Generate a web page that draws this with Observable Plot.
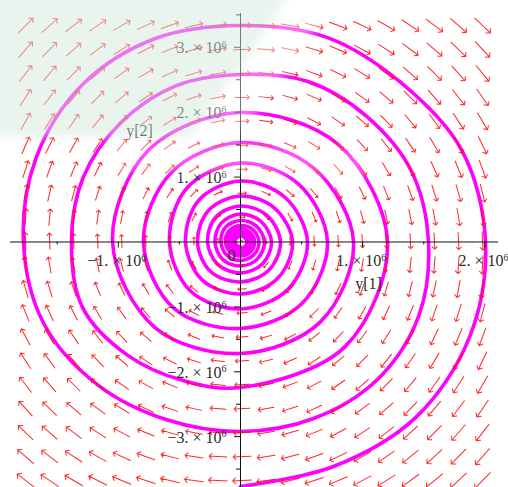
<!DOCTYPE html>
<html>
<head>
<meta charset="utf-8">
<script src="https://cdn.jsdelivr.net/npm/d3@7"></script>
<script src="https://cdn.jsdelivr.net/npm/@observablehq/plot@0.6"></script>
<style>
  html, body { margin: 0; padding: 0; background: #fff; }
  #chart svg { display: block; }
</style>
</head>
<body>
<div id="chart"></div>
<script>
// Phase plane of a planar linear system: direction field plus one trajectory.

// Trajectory samples (units of 10^6), from its outer end spiralling inwards.
const trajY1 = [
  0, 0.761, 1.435, 1.875, 2.005, 1.811, 1.308, 0.695,
  0, -0.691, -1.290, -1.671, -1.776, -1.610, -1.169, -0.603,
  0, 0.598, 1.123, 1.459, 1.538, 1.399, 1.030, 0.545,
  0, -0.529, -0.978, -1.285, -1.383, -1.293, -0.926, -0.470,
  0, 0.856, 1.203, 0.799, 0, -0.752, -1.047, -0.700,
  0, 0.654, 0.925, 0.602, 0, -0.567, -0.794, -0.544,
  0, 0.503, 0.712, 0.475, 0, -0.440, -0.581, -0.405,
  0, 0.388, 0.548, 0.365, 0, -0.341, -0.450, -0.312,
  0, 0.301, 0.426, 0.278, 0, -0.260, -0.352, -0.243,
  0, 0.231, 0.327, 0.217, 0, -0.203, -0.270, -0.185,
  0, 0.179, 0.254, 0.168, 0, -0.156, -0.209, -0.145,
  0, 0.139, 0.196, 0.130, 0, -0.122, -0.160, -0.110,
  0, 0.107, 0.151, 0.101, 0, -0.093, -0.123, -0.084,
  0, 0.081, 0.115, 0.078, 0, -0.072, -0.094, -0.064,
  0, 0.064, 0.090, 0.061, 0, -0.055, -0.074, -0.049,
  0, 0.049, 0.070, 0.046, 0, -0.043, -0.057, -0.038,
  0, 0.038, 0.053, 0.035, 0, -0.032, -0.045, -0.029,
  0
];
const trajY2 = [
  -3.767, -3.459, -2.702, -1.462, 0, 1.412, 2.462, 3.160,
  3.336, 3.139, 2.430, 1.303, 0, -1.256, -2.201, -2.740,
  -2.920, -2.719, -2.114, -1.138, 0, 1.091, 1.940, 2.477,
  2.581, 2.406, 1.841, 1.003, 0, -1.008, -1.743, -2.135,
  -2.242, -1.612, 0, 1.504, 1.995, 1.416, 0, -1.318,
  -1.718, -1.231, 0, 1.133, 1.533, 1.068, 0, -1.024,
  -1.333, -0.948, 0, 0.893, 1.217, 0.828, 0, -0.763,
  -1.032, -0.730, 0, 0.686, 0.940, 0.643, 0, -0.588,
  -0.801, -0.567, 0, 0.523, 0.709, 0.490, 0, -0.458,
  -0.616, -0.436, 0, 0.409, 0.555, 0.381, 0, -0.349,
  -0.478, -0.338, 0, 0.316, 0.431, 0.294, 0, -0.272,
  -0.370, -0.261, 0, 0.245, 0.331, 0.229, 0, -0.207,
  -0.285, -0.202, 0, 0.191, 0.254, 0.174, 0, -0.158,
  -0.216, -0.153, 0, 0.147, 0.200, 0.136, 0, -0.120,
  -0.169, -0.120, 0, 0.114, 0.154, 0.104, 0, -0.093,
  -0.131, -0.093, 0, 0.087, 0.116, 0.082, 0, -0.071,
  -0.100, -0.071, 0, 0.065, 0.092, 0.060, 0, -0.054,
  -0.077
];

// System y' = A y, and the window / grid on which the direction field is sampled.
const systemA = [[0.076, 1], [-3.3, 0.076]];
const fieldY1Range = [-1.857e6, 2.079e6];
const fieldY2Range = [-3.86e6, 3.52e6];
const fieldGrid = 20;

// Axes through the origin.
const viewY1 = [-1.964e6, 2.193e6];
const viewY2 = [-3.783e6, 3.721e6];
const axisY1Extent = [-1.882e6, 2.111e6];
const axisY2Extent = [-3.85e6, 3.52e6];
const xMajorTicks = [-1e6, 1e6, 2e6];
const xMajorLabels = ["\u22121. \u00d7 10", "1. \u00d7 10", "2. \u00d7 10"];
const xMinorTicks = [-1.5e6, -0.5e6, 0.5e6, 1.5e6];
const yMajorTicks = [3e6, 2e6, 1e6, -1e6, -2e6, -3e6];
const yMajorLabels = ["3. \u00d7 10", "2. \u00d7 10", "1. \u00d7 10", "\u22121. \u00d7 10", "\u22122. \u00d7 10", "\u22123. \u00d7 10"];
const yMinorTicks = [3.5e6, 2.5e6, 1.5e6, 0.5e6, -0.5e6, -1.5e6, -2.5e6, -3.5e6];
const tickExponent = "6";
const axisNames = ["y[1]", "y[2]"];

const W = 508, H = 487;
const serif = "'Liberation Serif', 'Times New Roman', serif";
const ink = "#2a2a2a";

// trajectory table
const trajectory = trajY1.map((v, i) => ({y1: v * 1e6, y2: trajY2[i] * 1e6}));

// direction field, arrows oriented in screen space
const kx = W / (viewY1[1] - viewY1[0]);
const ky = H / (viewY2[1] - viewY2[0]);
const c1 = (fieldY1Range[1] - fieldY1Range[0]) / fieldGrid;
const c2 = (fieldY2Range[1] - fieldY2Range[0]) / fieldGrid;
const field = [];
for (let i = 0; i < fieldGrid; i++) {
  for (let j = 0; j < fieldGrid; j++) {
    const y1 = fieldY1Range[0] + (i + 0.5) * c1;
    const y2 = fieldY2Range[0] + (j + 0.5) * c2;
    const d1 = systemA[0][0] * y1 + systemA[0][1] * y2;
    const d2 = systemA[1][0] * y1 + systemA[1][1] * y2;
    const u = d1 * kx, v = d2 * ky;
    field.push({y1, y2, rotate: Math.atan2(u, v) * 180 / Math.PI, mag: Math.hypot(u, v)});
  }
}
const maxMag = d3.max(field, d => d.mag);

const labelTexts = new Set([...xMajorLabels, ...yMajorLabels]);

const chart = Plot.plot({
  width: W,
  height: H,
  margin: 0,
  x: {domain: viewY1, axis: null},
  y: {domain: viewY2, axis: null},
  length: {type: "sqrt", domain: [0, maxMag], range: [0, 22]},
  style: {background: "#fff", overflow: "visible"},
  marks: [
    Plot.line(trajectory, {x: "y1", y: "y2", stroke: "#ff00ff", strokeWidth: 3.6, curve: "catmull-rom"}),
    Plot.vector(field, {
      x: "y1", y: "y2", rotate: "rotate", length: "mag", anchor: "middle", r: 2.6,
      stroke: "#ff1010", strokeWidth: 1, strokeOpacity: 0.9
    }),
    // axes
    Plot.ruleY([0], {x1: axisY1Extent[0], x2: axisY1Extent[1], stroke: "#111", strokeWidth: 1}),
    Plot.ruleX([0], {y1: axisY2Extent[0], y2: axisY2Extent[1], stroke: "#111", strokeWidth: 1}),
    Plot.ruleX(xMajorTicks, {y1: 0, y2: 0, insetBottom: -6, stroke: "#111"}),
    Plot.ruleX(xMinorTicks, {y1: 0, y2: 0, insetBottom: -3, stroke: "#111"}),
    Plot.ruleY(yMajorTicks, {x1: 0, x2: 0, insetLeft: -6, stroke: "#111"}),
    Plot.ruleY(yMinorTicks, {x1: 0, x2: 0, insetLeft: -4, stroke: "#111"}),
    // tick labels
    Plot.text(xMajorTicks, {
      x: d => d, y: 0, text: (d, i) => xMajorLabels[i], dx: -1.5, dy: 19,
      textAnchor: "middle", fontSize: 16, fontFamily: serif, fill: ink
    }),
    Plot.text(yMajorTicks, {
      x: 0, y: d => d, text: (d, i) => yMajorLabels[i], dx: -14, dy: 1,
      textAnchor: "end", fontSize: 16, fontFamily: serif, fill: ink
    }),
    Plot.text([0], {x: 0, y: 0, text: () => "0", dx: -9, dy: 14, fontSize: 16, fontFamily: serif, fill: ink}),
    // axis names
    Plot.text([axisNames[0]], {x: 0, y: 0, text: d => d, dx: 128, dy: 41.5, fontSize: 16, fontFamily: serif, fill: ink}),
    Plot.text([axisNames[1]], {x: 0, y: 0, text: d => d, dx: -101, dy: -111.5, fontSize: 16, fontFamily: serif, fill: ink})
  ]
});

// raise the power of ten in the tick labels
chart.querySelectorAll("text").forEach(t => {
  if (!labelTexts.has(t.textContent)) return;
  const sup = document.createElementNS("http://www.w3.org/2000/svg", "tspan");
  sup.setAttribute("dy", "-0.55em");
  sup.setAttribute("font-size", "10");
  sup.textContent = tickExponent;
  t.appendChild(sup);
});

// faint watermark washed over the upper-left part of the figure
const ns = "http://www.w3.org/2000/svg";
const defs = document.createElementNS(ns, "defs");
defs.innerHTML = '<filter id="soft" x="-20%" y="-20%" width="140%" height="140%"><feGaussianBlur stdDeviation="5"/></filter>';
chart.appendChild(defs);
const wash = document.createElementNS(ns, "g");
wash.setAttribute("pointer-events", "none");
wash.setAttribute("filter", "url(#soft)");
[
  ["-10,-10 292,-10 252,52 216,100 190,138 -10,136", "#d3e9dd", 0.5],
  ["292,-10 340,-10 302,50 264,100 238,140 190,138 216,100 252,52", "#ffffff", 0.4],
  ["110,140 238,140 370,150 370,176 110,170", "#ffffff", 0.3]
].forEach(([pts, fill, op]) => {
  const p = document.createElementNS(ns, "polygon");
  p.setAttribute("points", pts);
  p.setAttribute("fill", fill);
  p.setAttribute("fill-opacity", op);
  wash.appendChild(p);
});
chart.appendChild(wash);

document.getElementById("chart").appendChild(chart);
</script>
</body>
</html>
